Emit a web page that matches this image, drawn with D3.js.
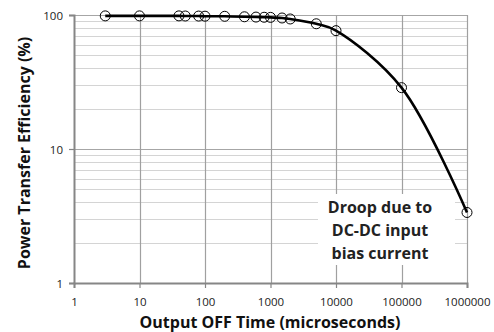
<!DOCTYPE html>
<html>
<head>
<meta charset="utf-8">
<script src="https://cdn.jsdelivr.net/npm/d3@7"></script>
<style>
  html, body { margin: 0; padding: 0; background: #fff; }
  svg text { font-family: "Open Sans", Lato, sans-serif; }
</style>
</head>
<body>
<div id="viz"></div>
<script>
// data (time in microseconds, efficiency in %)
const offTimes = [3, 10, 40, 50, 80, 100, 200, 400, 600, 800, 1000, 1500, 2000, 5000, 10000, 100000, 1000000];
const efficiency = [98.5, 98.5, 98.5, 98.3, 98.2, 98, 97.8, 97, 96.5, 96.2, 96, 95, 93.4, 86, 76.4, 28.7, 3.36];
const xTicks = [1, 10, 100, 1000, 10000, 100000, 1000000];
const yTicks = [1, 10, 100];
const noteLines = ["Droop due to", "DC-DC input", "bias current"];

const W = 494, H = 332;
const m = { left: 74, right: 27, top: 15, bottom: 49 };

const svg = d3.select('#viz').append('svg')
  .attr('width', W)
  .attr('height', H);

const x = d3.scaleLog().domain([1, 1e6]).range([m.left, W - m.right]);
const y = d3.scaleLog().domain([1, 100]).range([H - m.bottom, m.top]);

// minor horizontal grid (2..9 of each decade)
const minor = [];
[1, 10].forEach(d => { for (let k = 2; k <= 9; k++) minor.push(d * k); });
svg.append('g')
  .selectAll('line')
  .data(minor)
  .join('line')
  .attr('x1', m.left).attr('x2', W - m.right)
  .attr('y1', d => Math.round(y(d)) + 0.5).attr('y2', d => Math.round(y(d)) + 0.5)
  .attr('stroke', '#d4d4d4')
  .attr('stroke-width', 1.2);

// major grid
svg.append('g')
  .selectAll('line')
  .data(yTicks.slice(1))
  .join('line')
  .attr('x1', m.left).attr('x2', W - m.right)
  .attr('y1', d => Math.round(y(d)) + 0.5).attr('y2', d => Math.round(y(d)) + 0.5)
  .attr('stroke', '#a6a6a6')
  .attr('stroke-width', 1.2);

svg.append('g')
  .selectAll('line')
  .data(xTicks.slice(1))
  .join('line')
  .attr('x1', d => Math.round(x(d)) + 0.5).attr('x2', d => Math.round(x(d)) + 0.5)
  .attr('y1', m.top).attr('y2', H - m.bottom)
  .attr('stroke', '#a0a0a0')
  .attr('stroke-width', 1.2);

// annotation box (white behind the grid)
const noteX = 380, noteY0 = 207, noteDy = 23.3;
svg.append('rect')
  .attr('x', 318).attr('y', 194)
  .attr('width', 137).attr('height', 71)
  .attr('fill', '#fff');

// axes
const xAxis = svg.append('g')
  .attr('transform', `translate(0,${H - m.bottom})`)
  .call(d3.axisBottom(x).tickValues(xTicks).tickFormat(d3.format('d')).tickSize(5).tickPadding(10));
const yAxis = svg.append('g')
  .attr('transform', `translate(${m.left},0)`)
  .call(d3.axisLeft(y).tickValues(yTicks).tickFormat(d3.format('d')).tickSize(5).tickPadding(6));

[xAxis, yAxis].forEach(a => {
  a.select('.domain').attr('stroke', '#868686').attr('stroke-width', 2);
  a.selectAll('.tick line').attr('stroke', '#868686').attr('stroke-width', 1.2);
  a.selectAll('.tick text')
    .style('font-size', '11.5px')
    .attr('fill', '#222');
});
yAxis.selectAll('.tick text').attr('dy', '0.35em');

// curve
const line = d3.line()
  .x((d, i) => x(offTimes[i]))
  .y(d => y(d))
  .curve(d3.curveCatmullRom.alpha(0.5));

svg.append('path')
  .datum(efficiency)
  .attr('fill', 'none')
  .attr('stroke', '#000')
  .attr('stroke-width', 2.6)
  .attr('d', line);

svg.append('g')
  .selectAll('circle')
  .data(efficiency)
  .join('circle')
  .attr('cx', (d, i) => x(offTimes[i]))
  .attr('cy', d => y(d))
  .attr('r', 5)
  .attr('fill', 'none')
  .attr('stroke', '#000')
  .attr('stroke-width', 1);

// annotation text
svg.append('g')
  .selectAll('text')
  .data(noteLines)
  .join('text')
  .attr('x', noteX)
  .attr('y', (d, i) => noteY0 + i * noteDy)
  .attr('dy', '0.35em')
  .attr('text-anchor', 'middle')
  .style('font-size', '16px')
  .style('font-weight', 'bold')
  .attr('fill', '#222')
  .text(d => d);

// axis titles
svg.append('text')
  .attr('x', 270)
  .attr('y', H - 4)
  .attr('text-anchor', 'middle')
  .style('font-size', '16px')
  .style('font-weight', 'bold')
  .attr('fill', '#111')
  .text('Output OFF Time  (microseconds)');

svg.append('text')
  .attr('transform', `translate(30,153) rotate(-90)`)
  .attr('text-anchor', 'middle')
  .style('font-size', '16px')
  .style('font-weight', 'bold')
  .attr('fill', '#111')
  .text('Power Transfer Efficiency (%)');
</script>
</body>
</html>
